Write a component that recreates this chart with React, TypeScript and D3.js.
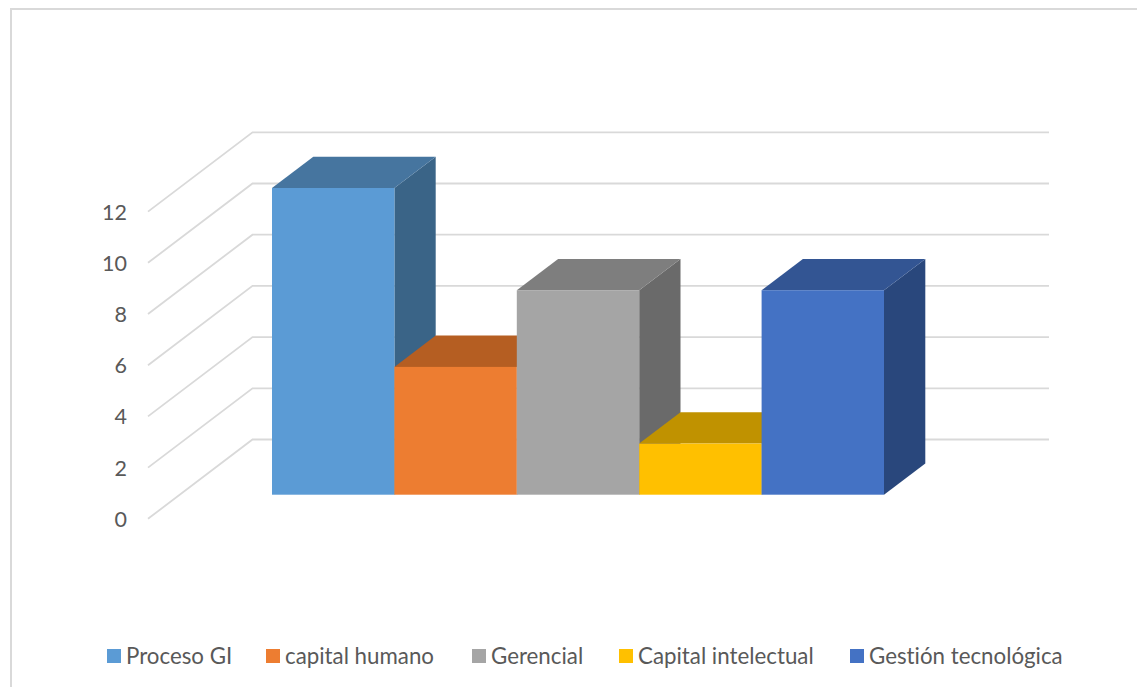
import React from 'react';
import * as d3 from 'd3';

const categories = ['Proceso GI', 'capital humano', 'Gerencial', 'Capital intelectual', 'Gestión tecnológica'];
const values = [12, 5, 8, 2, 8];
const frontColors = ['#5B9BD5', '#ED7D31', '#A5A5A5', '#FFC000', '#4472C4'];
const topColors = ['#46759F', '#B55E22', '#7E7E7E', '#C09200', '#335593'];
const sideColors = ['#3A6487', '#9A5020', '#6A6A6A', '#A57D00', '#29477C'];
const tickValues = [0, 2, 4, 6, 8, 10, 12];
const legendSwatchX = [107, 266, 472, 619, 850];

const W = 1137;
const H = 687;
const FONT = 'Lato, Carlito, Calibri, sans-serif';
const TEXT = '#595959';
const GRID = '#D9D9D9';

// Oblique projection: floor front edge, wall offset and bar depth offset.
const baseY = 494.7;
const unit = 25.56;
const barLeft = 272;
const barRight = 884;
const depthX = 41.3;
const depthY = -31.3;
const wallLeft = 252.5;
const wallRight = 1049;
const wallBase = 439.5;
const wallUnit = 25.6;
const edgeX = 148;
const edgeBase = 518.8;

const y = d3.scaleLinear().domain([0, 12]).range([baseY, baseY - 12 * unit]);
const wallY = d3.scaleLinear().domain([0, 12]).range([wallBase, wallBase - 12 * wallUnit]);
const edgeY = d3.scaleLinear().domain([0, 12]).range([edgeBase, edgeBase - 12 * wallUnit]);
const x = d3.scaleBand<string>().domain(categories).range([barLeft, barRight]).padding(0);

const poly = (pts: [number, number][]) => d3.line()(pts) + 'Z';

export default function App() {
  const bw = x.bandwidth();
  return (
    <svg width={W} height={H} viewBox={`0 0 ${W} ${H}`} style={{ position: 'absolute', left: 0, top: 0, background: '#fff' }}>
      <path d={`M11,${H}V9H${W}`} fill="none" stroke={GRID} strokeWidth={2} />
      <g fill="none" stroke={GRID} strokeWidth={1.8}>
        {tickValues.map((t) => (
          <path
            key={t}
            d={d3.line()([
              [edgeX, edgeY(t)],
              [wallLeft, wallY(t)],
              [wallRight, wallY(t)],
            ]) as string}
          />
        ))}
      </g>
      <g fontFamily={FONT} fontSize={21.5} fill={TEXT} textAnchor="end">
        {tickValues.map((t) => (
          <text key={t} x={127} y={edgeY(t) + 8}>
            {t}
          </text>
        ))}
      </g>
      {categories.map((c, i) => {
        const l = x(c) as number;
        const r = l + bw;
        const top = y(values[i]);
        return (
          <g key={c}>
            <path
              d={poly([[r, top], [r + depthX, top + depthY], [r + depthX, baseY + depthY], [r, baseY]])}
              fill={sideColors[i]}
            />
            <path
              d={poly([[l, top], [l + depthX, top + depthY], [r + depthX, top + depthY], [r, top]])}
              fill={topColors[i]}
            />
            <rect x={l} y={top} width={bw} height={baseY - top} fill={frontColors[i]} />
          </g>
        );
      })}
      <g fontFamily={FONT} fontSize={22.3} fill={TEXT} style={{ fontVariantLigatures: 'none' }}>
        {categories.map((c, i) => (
          <g key={c}>
            <rect x={legendSwatchX[i]} y={649} width={14} height={14} fill={frontColors[i]} />
            <text x={legendSwatchX[i] + 19} y={664}>
              {c}
            </text>
          </g>
        ))}
      </g>
    </svg>
  );
}
